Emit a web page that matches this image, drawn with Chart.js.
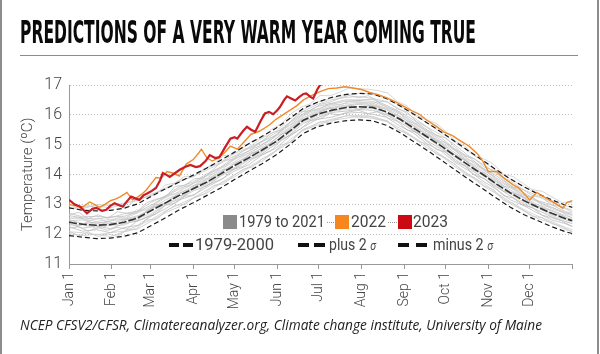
<!DOCTYPE html>
<html><head><meta charset="utf-8">
<script src="https://cdn.jsdelivr.net/npm/chart.js@4.4.0/dist/chart.umd.min.js"></script>
<style>
html,body{margin:0;padding:0;background:#fff;}
#wrap{position:relative;width:600px;height:354px;overflow:hidden;background:#fff;}
canvas{position:absolute;left:0;top:0;}
.abs{position:absolute;white-space:nowrap;transform-origin:0 50%;}
#title{left:20px;top:16px;font-family:"Liberation Sans Narrow","DejaVu Sans Condensed",sans-serif;font-weight:bold;font-size:32px;line-height:32px;color:#0a0a0a;transform-origin:0 0;}
#rule{position:absolute;left:20px;top:55px;width:558px;height:0;border-top:1.5px solid #8c8c8c;}
.edge{position:absolute;top:0;width:2px;height:354px;background:#8c8c8c;}
#source{left:20px;top:318px;font-family:"Open Sans","Noto Sans",sans-serif;font-style:italic;font-size:14px;line-height:14px;color:#222;transform-origin:0 0;}
.lg{font-family:Roboto,"Noto Sans",sans-serif;color:#444;font-size:17px;line-height:17px;}
.sq{position:absolute;width:14px;height:14px;}
.dash{position:absolute;height:4px;background:#111;}
.dot{position:absolute;height:0;border-top:1px dotted #999;}
</style></head>
<body>
<div id="wrap">
  <canvas id="c" width="600" height="354"></canvas>
  <div class="edge" style="left:0"></div>
  <div class="edge" style="left:597px"></div>
  <div id="title" class="abs">PREDICTIONS OF A VERY WARM YEAR COMING TRUE</div>
  <div id="rule"></div>
  <!-- legend row 1 -->
  <div class="sq" style="left:223px;top:215px;background:#8a8a8a"></div>
  <div class="abs lg" id="lg1" style="left:239px;top:213px">1979 to 2021</div>
  <div class="dot" style="left:327px;top:222px;width:7px"></div>
  <div class="sq" style="left:335px;top:215px;background:#f7861f"></div>
  <div class="abs lg" id="lg2" style="left:351px;top:213px">2022</div>
  <div class="dot" style="left:388px;top:222px;width:9px"></div>
  <div class="sq" style="left:398px;top:215px;background:#cc0a14"></div>
  <div class="abs lg" id="lg3" style="left:413px;top:213px">2023</div>
  <!-- legend row 2 -->
  <div class="dash" style="left:169px;top:243px;width:10px"></div>
  <div class="dash" style="left:183px;top:243px;width:10px"></div>
  <div class="abs lg" id="lg4" style="left:195px;top:237px;font-size:16px;line-height:16px">1979-2000</div>
  <div class="dash" style="left:298px;top:243px;width:11px"></div>
  <div class="dash" style="left:314px;top:243px;width:11px"></div>
  <div class="abs lg" id="lg5" style="left:329px;top:237px;font-size:16px;line-height:16px">plus 2 <i style="font-size:12px">σ</i></div>
  <div class="dash" style="left:398px;top:243px;width:11px"></div>
  <div class="dash" style="left:416px;top:243px;width:11px"></div>
  <div class="abs lg" id="lg6" style="left:433px;top:237px;font-size:16px;line-height:16px">minus 2 <i style="font-size:12px">σ</i></div>
  <div id="source" class="abs">NCEP CFSV2/CFSR, Climatereanalyzer.org, Climate change institute, University of Maine</div>
</div>
<script>
// ---- tick labels ----
const monthDays = [0, 31, 59, 90, 120, 151, 181, 212, 243, 273, 304, 334];
const monthLabels = ['Jan 1','Feb 1','Mar 1','Apr 1','May 1','Jun 1','Jul 1','Aug 1','Sep 1','Oct 1','Nov 1','Dec 1'];
const yearEndDay = 365;

// ---- 10-day grid used for climatology and some grey years ----
const gridDays = [0,10,20,30,40,50,60,70,80,90,100,110,120,130,140,150,160,170,180,190,200,210,220,230,240,250,260,270,280,290,300,310,320,330,340,350,360,365];
// ---- 7-day grid used for other grey years ----
const weekDays = [0,7,14,21,28,35,42,49,56,63,70,77,84,91,98,105,112,119,126,133,140,147,154,161,168,175,182,189,196,203,210,217,224,231,238,245,252,259,266,273,280,287,294,301,308,315,322,329,336,343,350,357,364,365];

// 1979-2000 mean and +/- 2 sigma
const mean7900 = [12.40,12.33,12.30,12.32,12.40,12.55,12.80,13.05,13.30,13.52,13.75,14.02,14.30,14.55,14.82,15.10,15.45,15.82,16.02,16.15,16.24,16.27,16.25,16.10,15.85,15.55,15.25,14.95,14.62,14.30,14.00,13.68,13.38,13.12,12.90,12.70,12.52,12.45];
const plus2sd = [12.88,12.80,12.78,12.80,12.87,13.02,13.28,13.52,13.75,13.98,14.22,14.48,14.75,15.02,15.28,15.55,15.88,16.22,16.42,16.58,16.68,16.72,16.70,16.55,16.30,16.02,15.72,15.42,15.10,14.78,14.47,14.15,13.85,13.58,13.35,13.15,12.97,12.90];
const minus2sd = [11.95,11.90,11.85,11.87,11.93,12.05,12.30,12.55,12.82,13.05,13.30,13.55,13.83,14.10,14.36,14.65,15.00,15.38,15.60,15.72,15.80,15.83,15.80,15.65,15.40,15.10,14.80,14.48,14.15,13.83,13.52,13.20,12.90,12.65,12.45,12.25,12.08,12.02];

// sample of 1979-2021 years (grey spaghetti), 10-day grid
const greyA = [12.02,11.95,12.00,11.92,12.08,12.18,12.45,12.72,12.92,13.20,13.38,13.70,13.92,14.22,14.45,14.78,15.08,15.50,15.65,15.82,15.88,15.95,15.88,15.78,15.48,15.22,14.88,14.62,14.25,13.98,13.62,13.35,13.02,12.78,12.52,12.38,12.15,12.10];
const greyB = [12.25,12.10,12.15,12.05,12.22,12.30,12.62,12.85,13.15,13.30,13.58,13.82,14.12,14.32,14.65,14.88,15.28,15.60,15.85,15.92,16.05,16.08,16.02,15.92,15.62,15.38,15.02,14.78,14.40,14.12,13.78,13.50,13.15,12.95,12.70,12.48,12.35,12.25];
const greyC = [12.30,12.32,12.20,12.30,12.30,12.52,12.70,13.02,13.22,13.50,13.68,13.98,14.22,14.52,14.75,15.08,15.38,15.78,15.95,16.12,16.18,16.20,16.22,16.02,15.82,15.48,15.22,14.88,14.58,14.22,13.98,13.60,13.35,13.05,12.88,12.62,12.48,12.40];
const greyD = [12.48,12.35,12.40,12.35,12.48,12.58,12.88,13.05,13.38,13.55,13.82,14.05,14.38,14.58,14.90,15.12,15.52,15.85,16.08,16.22,16.28,16.35,16.30,16.18,15.88,15.62,15.30,15.02,14.65,14.38,14.02,13.75,13.42,13.20,12.92,12.78,12.55,12.50];
const greyE = [12.55,12.52,12.42,12.50,12.52,12.72,12.92,13.22,13.42,13.70,13.88,14.20,14.42,14.72,14.95,15.28,15.58,15.98,16.15,16.30,16.38,16.42,16.40,16.22,16.02,15.70,15.42,15.08,14.80,14.42,14.18,13.82,13.55,13.25,13.08,12.85,12.70,12.62];
const greyF = [12.70,12.58,12.60,12.55,12.68,12.78,13.08,13.28,13.58,13.75,14.02,14.25,14.58,14.78,15.10,15.32,15.72,16.05,16.28,16.38,16.50,16.50,16.52,16.32,16.10,15.82,15.48,15.22,14.85,14.58,14.22,13.95,13.62,13.38,13.12,12.98,12.75,12.70];
const greyG = [12.85,12.90,12.95,12.88,13.02,13.15,13.32,13.55,13.75,13.95,14.15,14.38,14.62,14.88,15.12,15.40,15.75,16.12,16.35,16.50,16.58,16.62,16.55,16.45,16.18,15.90,15.58,15.32,14.98,14.62,14.35,14.02,13.78,13.48,13.28,13.05,12.88,12.80];
const greyH = [12.90,12.85,13.00,12.95,13.05,13.12,13.35,13.50,13.80,13.92,14.22,14.40,14.70,14.90,15.22,15.45,15.85,16.18,16.42,16.55,16.65,16.72,16.70,16.55,16.30,16.00,15.72,15.40,15.08,14.75,14.45,14.12,13.85,13.58,13.35,13.12,12.95,12.88];
const greyI = [12.35,12.20,12.28,12.18,12.35,12.45,12.65,12.98,13.18,13.45,13.62,13.95,14.18,14.48,14.70,15.02,15.32,15.72,15.90,16.08,16.12,16.18,16.15,16.00,15.75,15.45,15.12,14.85,14.50,14.20,13.88,13.58,13.28,13.00,12.80,12.58,12.42,12.35];
const greyJ = [12.45,12.48,12.35,12.45,12.50,12.62,12.85,13.15,13.35,13.62,13.85,14.10,14.35,14.65,14.88,15.20,15.55,15.90,16.12,16.25,16.32,16.38,16.35,16.20,15.95,15.65,15.35,15.05,14.72,14.40,14.10,13.78,13.48,13.22,12.98,12.80,12.62,12.55];
const greyK = [12.08,12.05,11.98,12.05,12.10,12.28,12.50,12.78,13.00,13.22,13.48,13.72,14.00,14.25,14.52,14.80,15.15,15.52,15.72,15.85,15.95,15.98,15.95,15.80,15.55,15.25,14.95,14.65,14.32,14.00,13.72,13.38,13.08,12.82,12.60,12.42,12.22,12.15];
const greyL = [12.62,12.55,12.50,12.58,12.60,12.75,12.98,13.25,13.52,13.70,13.98,14.22,14.50,14.78,15.00,15.32,15.65,16.02,16.20,16.35,16.45,16.48,16.45,16.28,16.05,15.75,15.45,15.15,14.82,14.50,14.20,13.88,13.58,13.32,13.10,12.90,12.72,12.65];

// more 1979-2021 years, 7-day grid
const greyM = [13.00,12.85,12.97,12.85,13.01,12.95,12.92,13.18,13.25,13.32,13.65,13.72,13.94,13.94,14.20,14.34,14.63,14.67,14.90,15.13,15.22,15.52,15.69,16.04,16.25,16.37,16.65,16.64,16.75,16.90,16.87,16.86,16.81,16.73,16.45,16.30,15.99,15.83,15.72,15.45,15.12,14.95,14.63,14.52,14.34,14.01,13.93,13.70,13.49,13.44,13.25,13.07,13.06,13.03];
const greyN = [12.65,12.73,12.52,12.65,12.53,12.75,12.70,12.71,13.05,13.17,13.25,13.60,13.64,13.86,13.88,14.19,14.48,14.49,14.80,14.91,15.12,15.40,15.49,15.79,16.10,16.14,16.35,16.42,16.55,16.65,16.57,16.64,16.46,16.43,16.20,16.10,15.77,15.60,15.32,15.23,14.92,14.62,14.53,14.25,14.14,13.81,13.58,13.50,13.29,13.22,12.98,12.92,12.76,12.75];
const greyO = [12.45,12.27,12.42,12.25,12.43,12.33,12.50,12.43,12.75,12.99,13.01,13.28,13.31,13.64,13.70,13.83,14.16,14.17,14.49,14.73,14.77,15.08,15.36,15.47,15.83,15.84,16.10,16.24,16.16,16.31,16.17,16.30,16.29,16.02,16.00,15.70,15.41,15.34,15.17,14.80,14.66,14.50,14.12,14.05,13.74,13.43,13.38,13.27,12.95,12.90,12.64,12.65,12.46,12.47];
const greyP = [12.10,11.95,12.07,11.92,12.01,11.93,12.14,12.18,12.48,12.49,12.75,12.97,12.99,13.24,13.35,13.64,13.68,13.95,14.17,14.25,14.52,14.67,14.99,15.09,15.45,15.57,15.77,15.74,15.90,16.00,15.89,15.96,15.86,15.80,15.50,15.40,15.14,15.03,14.69,14.55,14.34,14.00,13.88,13.62,13.49,13.13,13.03,12.80,12.59,12.56,12.35,12.27,12.08,12.10];
const greyQ = [12.20,12.25,12.10,12.22,12.13,12.23,12.17,12.43,12.55,12.67,12.97,13.04,13.27,13.32,13.60,13.74,13.88,14.17,14.27,14.51,14.67,14.82,15.16,15.34,15.53,15.80,15.87,16.04,16.00,16.10,16.15,16.04,16.11,15.90,15.78,15.50,15.41,15.13,14.85,14.75,14.44,14.28,13.98,13.87,13.59,13.29,13.21,12.97,12.89,12.64,12.55,12.45,12.28,12.30];
const greyR = [12.50,12.57,12.44,12.55,12.39,12.55,12.57,12.81,12.80,13.05,13.30,13.34,13.59,13.62,13.92,14.04,14.18,14.52,14.63,14.75,15.02,15.17,15.52,15.67,15.85,16.14,16.20,16.39,16.32,16.45,16.45,16.36,16.43,16.23,16.15,15.80,15.69,15.43,15.15,15.07,14.80,14.52,14.43,14.12,13.94,13.61,13.55,13.30,13.24,12.96,12.90,12.75,12.56,12.60];

// 2022
const days2022 = [0,5,10,15,19,22,26,30,34,37,42,46,50,53,56,60,63,67,71,75,80,85,90,94,96,100,104,108,112,117,122,127,132,138,145,150,155,160,165,170,176,182,188,194,200,206,212,218,224,230,236,242,248,254,260,266,272,278,284,290,296,300,304,310,316,322,326,330,334,339,346,352,358,361,365];
const temp2022 = [13.00,12.95,12.92,13.08,12.98,12.90,13.00,13.12,13.18,13.25,13.40,13.15,13.25,13.35,13.48,13.72,13.90,13.88,14.10,14.05,13.95,14.35,14.50,14.72,14.85,14.55,14.45,14.55,14.70,14.95,14.85,15.10,15.35,15.45,15.65,15.85,16.00,16.15,16.30,16.50,16.65,16.78,16.88,16.90,16.94,16.90,16.85,16.75,16.68,16.58,16.45,16.30,16.15,16.02,15.80,15.62,15.42,15.30,15.12,14.95,14.70,14.45,14.10,14.10,13.85,13.65,13.55,13.35,13.15,13.40,13.20,13.05,12.87,13.07,13.12];

// 2023
const days2023 = [0,4,8,13,17,20,24,27,30,33,36,39,42,45,48,51,54,57,60,63,66,68,71,73,77,80,84,88,92,95,99,102,106,109,113,117,120,122,126,129,132,135,139,142,145,148,151,153,156,158,161,164,167,170,172,175,177,180,182,184];
const temp2023 = [13.15,13.00,12.92,12.70,12.85,12.88,12.78,12.82,12.95,13.04,12.98,12.92,13.10,13.26,13.20,13.15,13.30,13.37,13.45,13.55,13.80,14.05,13.98,13.92,14.05,14.15,14.25,14.32,14.25,14.28,14.45,14.65,14.55,14.58,14.90,15.20,15.25,15.20,15.45,15.60,15.50,15.43,15.80,16.05,16.10,16.02,16.15,16.27,16.50,16.62,16.55,16.48,16.60,16.70,16.72,16.60,16.55,16.85,17.00,17.05];

const xy = (d, v) => d.map((x, i) => ({x: x, y: v[i]}));

const greyTen = [greyA, greyB, greyC, greyD, greyE, greyF, greyG, greyH, greyI, greyJ, greyK, greyL];
const greyWeek = [greyM, greyN, greyO, greyP, greyQ, greyR];
const greyCols = ['#c9c9c9','#bdbdbd','#d0d0d0','#c2c2c2','#cbcbcb','#bfbfbf','#c6c6c6','#cfcfcf','#b9b9b9','#c4c4c4','#cccccc','#c0c0c0'];
const greyWeekCols = ['#cdcdcd','#c3c3c3','#bababa','#c8c8c8','#bebebe','#d2d2d2'];

const datasets = [
  {label:'2023', data: xy(days2023, temp2023), borderColor:'#c81e24', borderWidth:2.2, order:0},
  {label:'2022', data: xy(days2022, temp2022), borderColor:'#f08a28', borderWidth:1.4, order:1},
  {label:'plus 2σ', data: xy(gridDays, plus2sd), borderColor:'#1a1a1a', borderWidth:1.2, borderDash:[5,3], order:2},
  {label:'minus 2σ', data: xy(gridDays, minus2sd), borderColor:'#1a1a1a', borderWidth:1.2, borderDash:[5,3], order:3},
  {label:'1979-2000', data: xy(gridDays, mean7900), borderColor:'#333333', borderWidth:1.6, borderDash:[8,2], order:4}
];
greyTen.forEach((g, i) => datasets.push({label:'1979 to 2021', data: xy(gridDays, g), borderColor: greyCols[i], borderWidth:0.8, order: 10 + i}));
greyWeek.forEach((g, i) => datasets.push({label:'1979 to 2021', data: xy(weekDays, g), borderColor: greyWeekCols[i], borderWidth:0.8, order: 30 + i}));

new Chart(document.getElementById('c'), {
  type: 'line',
  data: {datasets},
  options: {
    responsive: false, animation: false, devicePixelRatio: 1,
    layout: {padding: {top: 85, right: 27.5, bottom: 0, left: 0}},
    elements: {point: {radius: 0}, line: {tension: 0, fill: false}},
    plugins: {legend: {display: false}, tooltip: {enabled: false}},
    scales: {
      x: {
        type: 'linear', min: 0, max: yearEndDay,
        afterBuildTicks: s => { s.ticks = monthDays.concat([yearEndDay]).map(v => ({value: v})); },
        afterFit: s => { s.height = 90; },
        ticks: {
          autoSkip: false, maxRotation: 90, minRotation: 90, padding: 3,
          color: '#444', font: {family: 'Roboto, "Noto Sans", sans-serif', size: 14, weight: '300'},
          callback: v => { const i = monthDays.indexOf(v); return i >= 0 ? monthLabels[i] : ''; }
        },
        grid: {drawOnChartArea: false, drawTicks: true, tickLength: 5, color: '#999'},
        border: {display: true, color: '#999', width: 1}
      },
      y: {
        min: 11, max: 17,
        afterFit: s => { s.width = 69; },
        ticks: {stepSize: 1, padding: 7, color: '#444', font: {family: 'Roboto, "Noto Sans", sans-serif', size: 16, weight: '300'}},
        grid: {color: '#bdbdbd', drawTicks: false, lineWidth: 1},
        border: {display: true, color: '#999', width: 1, dash: [1, 2]},
        title: {display: true, text: 'Temperature (ºC)', color: '#444', padding: {top: 19, bottom: 0},
                font: {family: 'Roboto, "Noto Sans", sans-serif', size: 15, weight: '300'}}
      }
    }
  }
});

// fit text widths to reference
function fit(id, w) {
  const el = document.getElementById(id);
  const cur = el.getBoundingClientRect().width;
  if (cur > 0) el.style.transform = 'scaleX(' + (w / cur) + ')';
}
fit('title', 456);
fit('source', 522);
fit('lg1', 86); fit('lg2', 35); fit('lg3', 35);
fit('lg4', 79); fit('lg5', 47); fit('lg6', 60);
</script>
</body></html>
